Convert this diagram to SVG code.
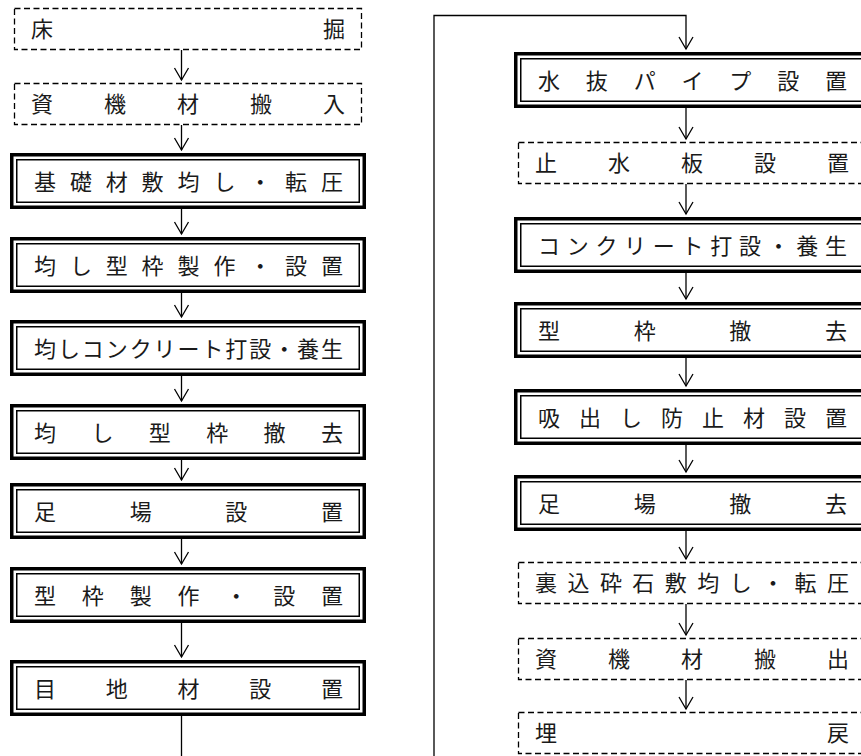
<svg xmlns="http://www.w3.org/2000/svg" width="861" height="756" viewBox="0 0 861 756">
<style>
.bg{fill:#fff}
.o{fill:none;stroke:#000;stroke-width:3.5}
.i{fill:none;stroke:#000;stroke-width:1.5}
.d{fill:none;stroke:#000;stroke-width:1.3;stroke-dasharray:6 3.5}
.t{font-family:"Noto Sans CJK JP","Noto Sans CJK SC",sans-serif;font-size:22px;fill:#1a1a1a;text-anchor:middle}
.c{fill:none;stroke:#000;stroke-width:1.3}
</style>
<defs>
<marker id="ah" markerUnits="userSpaceOnUse" markerWidth="20" markerHeight="20" refX="0" refY="0" orient="auto" overflow="visible">
<path d="M-12,-7 L0,0 L-12,7" fill="none" stroke="#000" stroke-width="1.3"/>
</marker>
</defs>
<rect class="bg" x="0" y="0" width="861" height="756"/>

<g id="connectors">
<path class="c" d="M181.5,50 V80" marker-end="url(#ah)"/>
<path class="c" d="M181.5,125 V150" marker-end="url(#ah)"/>
<path class="c" d="M181.5,209 V234" marker-end="url(#ah)"/>
<path class="c" d="M181.5,293 V317" marker-end="url(#ah)"/>
<path class="c" d="M181.5,376 V401" marker-end="url(#ah)"/>
<path class="c" d="M181.5,460 V480" marker-end="url(#ah)"/>
<path class="c" d="M181.5,539 V564" marker-end="url(#ah)"/>
<path class="c" d="M181.5,623 V657" marker-end="url(#ah)"/>
<path class="c" d="M181.5,716 V770 H434 V15.5 H686 V49" marker-end="url(#ah)"/>
<path class="c" d="M686,108 V139" marker-end="url(#ah)"/>
<path class="c" d="M686,184 V214" marker-end="url(#ah)"/>
<path class="c" d="M686,273 V299" marker-end="url(#ah)"/>
<path class="c" d="M686,358 V386" marker-end="url(#ah)"/>
<path class="c" d="M686,445 V472" marker-end="url(#ah)"/>
<path class="c" d="M686,531 V559" marker-end="url(#ah)"/>
<path class="c" d="M686,604 V635" marker-end="url(#ah)"/>
<path class="c" d="M686,680 V709" marker-end="url(#ah)"/>
</g>

<g id="L1">
<rect class="d" x="14.5" y="8.5" width="347" height="41"/>
<text class="t" x="42 334" y="37">床掘</text>
</g>
<g id="L2">
<rect class="d" x="14.5" y="83.5" width="347" height="41"/>
<text class="t" x="42 115 188 261 334" y="112">資機材搬入</text>
</g>
<g id="L3">
<rect class="o" x="11.75" y="154.75" width="352.5" height="52.5"/>
<rect class="i" x="16.75" y="159.75" width="342.5" height="42.5"/>
<text class="t" x="45 80.9 116.8 152.6 188.5 224.4 260.3 296.1 332" y="189.5">基礎材敷均し・転圧</text>
</g>
<g id="L4">
<rect class="o" x="11.75" y="238.75" width="352.5" height="52.5"/>
<rect class="i" x="16.75" y="243.75" width="342.5" height="42.5"/>
<text class="t" x="45 80.9 116.8 152.6 188.5 224.4 260.3 296.1 332" y="273.5">均し型枠製作・設置</text>
</g>
<g id="L5">
<rect class="o" x="11.75" y="321.75" width="352.5" height="52.5"/>
<rect class="i" x="16.75" y="326.75" width="342.5" height="42.5"/>
<text class="t" x="45 68.9 92.8 116.8 140.7 164.6 188.5 212.4 236.3 260.3 284.2 308.1 332" y="356.5">均しコンクリート打設・養生</text>
</g>
<g id="L6">
<rect class="o" x="11.75" y="405.75" width="352.5" height="52.5"/>
<rect class="i" x="16.75" y="410.75" width="342.5" height="42.5"/>
<text class="t" x="45 102.4 159.8 217.2 274.6 332" y="440.5">均し型枠撤去</text>
</g>
<g id="L7">
<rect class="o" x="11.75" y="484.75" width="352.5" height="52.5"/>
<rect class="i" x="16.75" y="489.75" width="342.5" height="42.5"/>
<text class="t" x="45 140.7 236.3 332" y="519.5">足場設置</text>
</g>
<g id="L8">
<rect class="o" x="11.75" y="568.75" width="352.5" height="52.5"/>
<rect class="i" x="16.75" y="573.75" width="342.5" height="42.5"/>
<text class="t" x="45 92.8 140.7 188.5 236.3 284.2 332" y="603.5">型枠製作・設置</text>
</g>
<g id="L9">
<rect class="o" x="11.75" y="661.75" width="352.5" height="52.5"/>
<rect class="i" x="16.75" y="666.75" width="342.5" height="42.5"/>
<text class="t" x="45 116.8 188.5 260.3 332" y="696.5">目地材設置</text>
</g>

<g id="R1">
<rect class="o" x="515.75" y="53.75" width="352.5" height="52.5"/>
<rect class="i" x="520.75" y="58.75" width="342.5" height="42.5"/>
<text class="t" x="549 596.8 644.7 692.5 740.3 788.2 836" y="88.5">水抜パイプ設置</text>
</g>
<g id="R2">
<rect class="d" x="518.5" y="142.5" width="347" height="41"/>
<text class="t" x="546 619 692 765 838" y="171">止水板設置</text>
</g>
<g id="R3">
<rect class="o" x="515.75" y="218.75" width="352.5" height="52.5"/>
<rect class="i" x="520.75" y="223.75" width="342.5" height="42.5"/>
<text class="t" x="549 577.7 606.4 635.1 663.8 692.5 721.2 749.9 778.6 807.3 836" y="253.5">コンクリート打設・養生</text>
</g>
<g id="R4">
<rect class="o" x="515.75" y="303.75" width="352.5" height="52.5"/>
<rect class="i" x="520.75" y="308.75" width="342.5" height="42.5"/>
<text class="t" x="549 644.7 740.3 836" y="338.5">型枠撤去</text>
</g>
<g id="R5">
<rect class="o" x="515.75" y="390.75" width="352.5" height="52.5"/>
<rect class="i" x="520.75" y="395.75" width="342.5" height="42.5"/>
<text class="t" x="549 590 631 672 713 754 795 836" y="425.5">吸出し防止材設置</text>
</g>
<g id="R6">
<rect class="o" x="515.75" y="476.75" width="352.5" height="52.5"/>
<rect class="i" x="520.75" y="481.75" width="342.5" height="42.5"/>
<text class="t" x="549 644.7 740.3 836" y="511.5">足場撤去</text>
</g>
<g id="R7">
<rect class="d" x="518.5" y="562.5" width="347" height="41"/>
<text class="t" x="546 578.4 610.9 643.3 675.8 708.2 740.7 773.1 805.6 838" y="591">裏込砕石敷均し・転圧</text>
</g>
<g id="R8">
<rect class="d" x="518.5" y="638.5" width="347" height="41"/>
<text class="t" x="546 619 692 765 838" y="667">資機材搬出</text>
</g>
<g id="R9">
<rect class="d" x="518.5" y="712.5" width="347" height="41"/>
<text class="t" x="546 838" y="741">埋戻</text>
</g>
</svg>
